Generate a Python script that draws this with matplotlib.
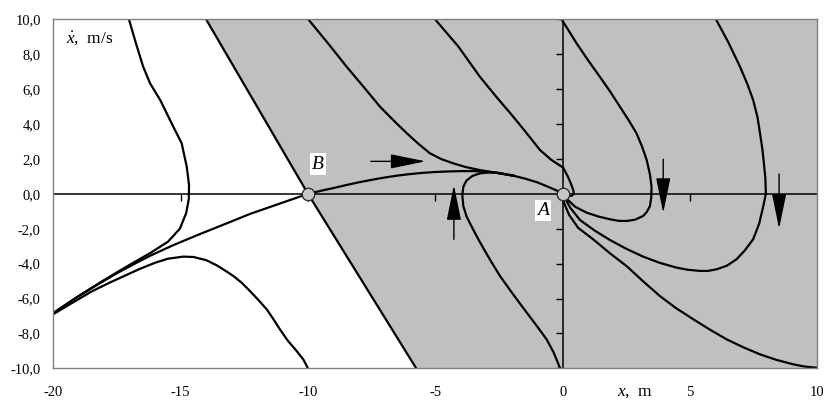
import numpy as np
import matplotlib
matplotlib.use('Agg')
from matplotlib import pyplot as plt

plt.rcParams['font.family'] = ['Liberation Serif', 'DejaVu Serif']
plt.rcParams['mathtext.fontset'] = 'custom'
plt.rcParams['mathtext.it'] = 'Liberation Serif:italic'
plt.rcParams['mathtext.rm'] = 'Liberation Serif'

# axis ticks and labels
x_ticks = [-20, -15, -10, -5, 0, 5, 10]
y_ticks = [-10, -8, -6, -4, -2, 0, 2, 4, 6, 8, 10]
y_tick_labels = ['-10,0', '-8,0', '-6,0', '-4,0', '-2,0', '0,0', '2,0', '4,0', '6,0', '8,0', '10,0']

# border of the shaded region
edge_x = [-14.0, -10.0, -5.75]
edge_y = [10.0, 0.0, -10.0]

# phase trajectories
left_x = [-17.03, -16.75, -16.47, -16.2, -15.8, -15.29, -14.96, -14.76, -14.67, -14.68, -14.78,
          -15.03, -15.5, -16.2, -16.86, -17.5, -18.17, -19.1, -20.0]
left_y = [10.0, 8.6, 7.28, 6.33, 5.37, 3.85, 2.9, 1.55, 0.5, -0.3, -1.1,
          -2.0, -2.75, -3.4, -3.95, -4.5, -5.09, -5.95, -6.82]

sep_x = [-10.0, -10.75, -11.48, -12.27, -13.2, -14.23, -15.3, -16.2, -16.86, -17.5, -18.2, -19.1, -20.0]
sep_y = [0.0, -0.38, -0.75, -1.15, -1.7, -2.3, -2.95, -3.55, -4.05, -4.55, -5.15, -5.95, -6.85]

low_x = [-20.0, -19.2, -18.5, -17.8, -17.2, -16.6, -16.0, -15.5, -14.9, -14.5, -14.0, -13.58, -13.2,
         -12.93, -12.6, -12.28, -11.95, -11.62, -11.35, -11.1, -10.8, -10.45, -10.18, -10.0]
low_y = [-6.9, -6.2, -5.6, -5.1, -4.7, -4.3, -3.95, -3.72, -3.6, -3.62, -3.8, -4.1, -4.45,
         -4.71, -5.1, -5.57, -6.08, -6.62, -7.2, -7.77, -8.4, -9.0, -9.5, -10.0]

ba_x = [-10.0, -9.5, -9.0, -8.5, -8.0, -7.5, -7.0, -6.5, -6.0, -5.5, -5.0, -4.5, -4.0, -3.5,
        -3.0, -2.5, -1.94, -1.5, -1.0, -0.6, -0.25, 0.0]
ba_y = [0.0, 0.17, 0.33, 0.5, 0.66, 0.8, 0.93, 1.04, 1.13, 1.2, 1.25, 1.28, 1.3, 1.3,
        1.27, 1.2, 1.04, 0.88, 0.66, 0.42, 0.2, 0.0]

c5_x = [-9.99, -9.2, -8.48, -7.8, -7.17, -6.6, -6.12, -5.65, -5.21, -4.75, -4.3, -3.8, -3.25, -2.59, -1.94]
c5_y = [10.0, 8.6, 7.28, 6.1, 4.99, 4.15, 3.47, 2.85, 2.32, 1.98, 1.75, 1.53, 1.36, 1.2, 1.04]

c6_x = [-5.01, -4.1, -3.25, -2.6, -1.94, -1.4, -0.89, -0.45, 0.02, 0.2, 0.32, 0.42, 0.44, 0.35, 0.15, 0.0]
c6_y = [10.0, 8.45, 6.71, 5.55, 4.42, 3.45, 2.51, 1.95, 1.5, 1.0, 0.6, 0.2, 0.0, -0.12, -0.1, 0.0]

c7_x = [-0.04, 0.55, 1.0, 1.46, 1.87, 2.25, 2.6, 2.9, 3.12, 3.3, 3.43, 3.49, 3.48, 3.43, 3.3, 3.16,
        2.85, 2.51, 2.2, 1.86, 1.4, 0.94, 0.5, 0.2, 0.0]
c7_y = [10.0, 8.62, 7.65, 6.71, 5.85, 4.99, 4.2, 3.47, 2.7, 1.94, 1.1, 0.41, -0.2, -0.7, -1.05, -1.27,
        -1.48, -1.56, -1.55, -1.46, -1.3, -1.08, -0.75, -0.35, 0.0]

c8_x = [-0.1, -0.35, -0.63, -1.0, -1.41, -1.95, -2.46, -2.8, -3.12, -3.35, -3.6, -3.77, -3.9, -3.94,
        -3.9, -3.78, -3.55, -3.25, -2.9, -2.6, -1.94]
c8_y = [-10.0, -9.1, -8.34, -7.6, -6.81, -5.75, -4.71, -3.9, -3.1, -2.5, -1.8, -1.31, -0.7, -0.07,
        0.4, 0.75, 1.02, 1.17, 1.22, 1.2, 1.04]

c10_x = [6.02, 6.5, 6.96, 7.25, 7.48, 7.65, 7.75, 7.84, 7.9, 7.96, 7.98, 7.88, 7.72, 7.48, 7.15, 6.83,
         6.45, 6.04, 5.7, 5.39, 4.9, 4.47, 3.8, 3.16, 2.5, 1.86, 1.25, 0.68, 0.3, 0.0]
c10_y = [10.0, 8.7, 7.3, 6.3, 5.38, 4.4, 3.47, 2.6, 1.8, 0.9, 0.0, -0.7, -1.7, -2.61, -3.25, -3.75,
         -4.12, -4.33, -4.42, -4.42, -4.35, -4.23, -3.95, -3.6, -3.15, -2.65, -2.1, -1.5, -0.8, 0.0]

c11_x = [0.0, 0.05, 0.25, 0.61, 1.2, 1.85, 2.51, 3.15, 3.82, 4.45, 5.13, 5.8, 6.44, 7.1, 7.75,
         8.4, 9.05, 9.5, 10.0]
c11_y = [0.0, -0.5, -1.2, -1.95, -2.61, -3.4, -4.14, -5.0, -5.86, -6.55, -7.19, -7.8, -8.34, -8.8, -9.2,
         -9.52, -9.77, -9.9, -9.97]

curves = [(edge_x, edge_y), (left_x, left_y), (sep_x, sep_y), (low_x, low_y),
          (ba_x, ba_y), (c5_x, c5_y), (c6_x, c6_y), (c7_x, c7_y), (c8_x, c8_y),
          (c10_x, c10_y), (c11_x, c11_y)]

# direction arrows: (x_start, y_start, x_end, y_end)
arrows = [(-7.53, 1.86, -5.38, 1.86),
          (-4.27, -2.61, -4.27, 0.5),
          (3.95, 1.98, 3.95, -1.1),
          (8.5, 1.13, 8.5, -2.0)]

# equilibrium points
pts_x = [-10.0, 0.0]
pts_y = [0.0, 0.0]
pts_names = ['B', 'A']

fig = plt.figure(figsize=(8.35, 4.12), dpi=100)
ax = fig.add_axes([53.3 / 835, 1 - 368.3 / 412, 764 / 835, 349 / 412])
ax.set_xlim(-20, 10)
ax.set_ylim(-10, 10)

ax.fill_betweenx(edge_y, edge_x, 10, color='#c0c0c0', lw=0, zorder=0)

ax.axhline(0, color='black', lw=1.1, zorder=1)
ax.axvline(0, color='black', lw=1.1, zorder=1)
ax.plot([t for t in x_ticks if t not in (-20, 0, 10)], [0] * 4, ls='none', marker=3,
        ms=5, mew=1, color='black', zorder=1)
ax.plot([0] * len(y_ticks), y_ticks, ls='none', marker=0, ms=5, mew=1, color='black', zorder=1)

for cx, cy in curves:
    ax.plot(cx, cy, color='black', lw=1.6, zorder=2, solid_joinstyle='round')

for x0, y0, x1, y1 in arrows:
    ax.annotate('', xy=(x1, y1), xytext=(x0, y0),
                arrowprops=dict(arrowstyle='-|>,head_length=2.2,head_width=0.45',
                                color='black', lw=1, shrinkA=0, shrinkB=0), zorder=3)

ax.plot(pts_x, pts_y, ls='none', marker='o', ms=9, mfc='#c8c8c8', mec='#303030', mew=1, zorder=4)
ax.text(-9.6, 1.7, pts_names[0], fontsize=14, style='italic', ha='center', va='center',
        bbox=dict(facecolor='white', edgecolor='none', pad=1.5), zorder=5)
ax.text(-0.78, -0.96, pts_names[1], fontsize=14, style='italic', ha='center', va='center',
        bbox=dict(facecolor='white', edgecolor='none', pad=1.5), zorder=5)

ax.text(0.016, 0.945, r'$\dot{x}$,  m/s', transform=ax.transAxes, fontsize=12.5, va='center', ha='left')
ax.text(0.738, -0.068, r'$x$,  m', transform=ax.transAxes, fontsize=12.5, va='center', ha='left')

ax.set_xticks(x_ticks)
ax.set_xticklabels([str(t) for t in x_ticks])
ax.set_yticks(y_ticks)
ax.set_yticklabels(y_tick_labels)
ax.tick_params(axis='both', length=0, labelsize=10.5)
ax.tick_params(axis='x', pad=13)
ax.tick_params(axis='y', pad=9)
for s in ax.spines.values():
    s.set_color('#808080')
    s.set_linewidth(1)

fig.savefig('out.png', dpi=100)
